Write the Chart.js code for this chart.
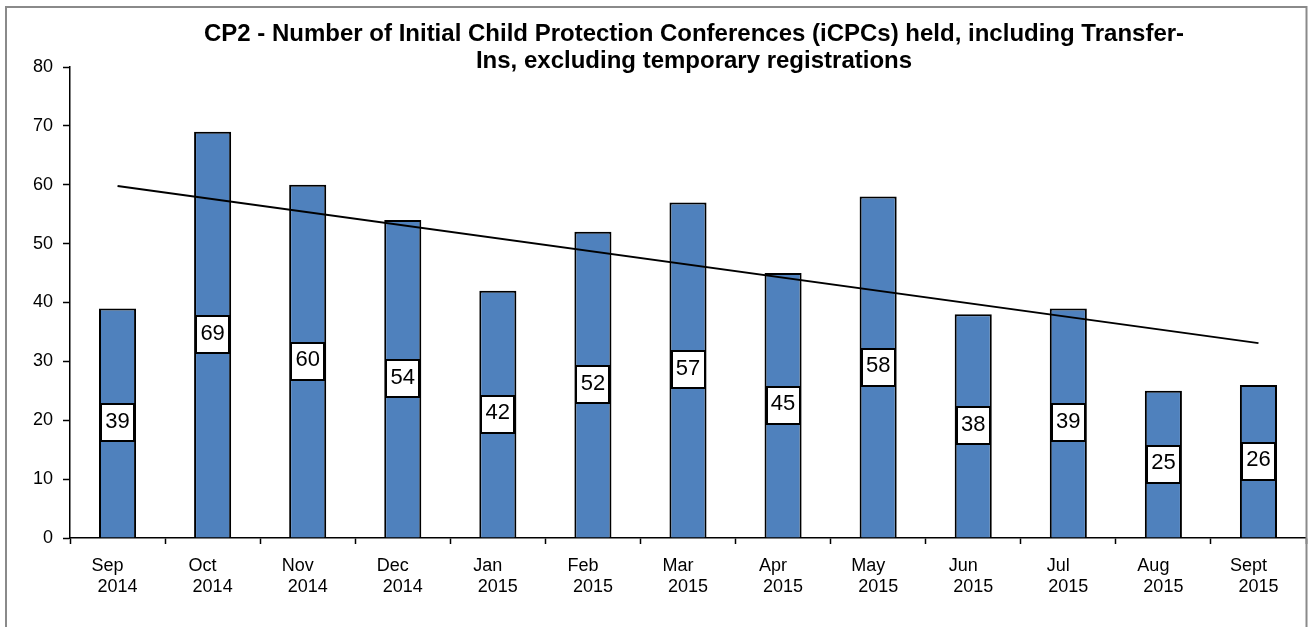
<!DOCTYPE html>
<html>
<head>
<meta charset="utf-8">
<title>CP2 - iCPCs held</title>
<script src="https://cdn.jsdelivr.net/npm/chart.js@4.4.1/dist/chart.umd.min.js"></script>
<style>
  html, body { margin: 0; padding: 0; background: #fff; }
  canvas { display: block; }
</style>
</head>
<body>
<canvas id="cp2Chart" width="1308" height="627"></canvas>
<script>
// chart data
const months = ['Sep', 'Oct', 'Nov', 'Dec', 'Jan', 'Feb', 'Mar', 'Apr', 'May', 'Jun', 'Jul', 'Aug', 'Sept'];
const years = ['2014', '2014', '2014', '2014', '2015', '2015', '2015', '2015', '2015', '2015', '2015', '2015', '2015'];
const icpcCounts = [39, 69, 60, 54, 42, 52, 57, 45, 58, 38, 39, 25, 26];
// linear trend at its two ends
const trendValues = [59.8, null, null, null, null, null, null, null, null, null, null, null, 33.1];
const yMin = 0;
const yMax = 80;
const yStep = 10;
const titleLines = [
  'CP2 - Number of Initial Child Protection Conferences (iCPCs) held, including Transfer-',
  'Ins, excluding temporary registrations'
];

const FONT = '"Liberation Sans", Arial, sans-serif';

// grey frame round the whole chart + the two line title
const frameAndTitle = {
  id: 'frameAndTitle',
  beforeDraw(chart) {
    const ctx = chart.ctx;
    ctx.save();
    ctx.fillStyle = '#fff';
    ctx.fillRect(0, 0, chart.width, chart.height);
    ctx.restore();
  },
  afterDraw(chart) {
    const ctx = chart.ctx;
    ctx.save();
    ctx.strokeStyle = '#8a8a8a';
    ctx.lineWidth = 2;
    ctx.strokeRect(6, 7, 1300.5, chart.height + 20);

    ctx.fillStyle = '#000';
    ctx.font = 'bold 24px ' + FONT;
    ctx.textAlign = 'center';
    ctx.textBaseline = 'alphabetic';
    const cx = (chart.chartArea.left + chart.chartArea.right) / 2 + 6;
    titleLines.forEach((line, i) => {
      ctx.fillText(line, cx, 40.5 + i * 27);
    });
    ctx.restore();
  }
};

// white boxed value labels half way up each bar
const boxedLabels = {
  id: 'boxedLabels',
  afterDatasetsDraw(chart) {
    const ctx = chart.ctx;
    const meta = chart.getDatasetMeta(1);
    const values = chart.data.datasets[1].data;
    ctx.save();
    ctx.font = '22px ' + FONT;
    ctx.textAlign = 'center';
    ctx.textBaseline = 'middle';
    meta.data.forEach((bar, i) => {
      const text = String(values[i]);
      const w = Math.round(ctx.measureText(text).width) + 9;
      const h = 37;
      const cy = (bar.y + bar.base) / 2;
      const x0 = Math.round(bar.x - w / 2);
      const y0 = Math.round(cy - h / 2);
      ctx.fillStyle = '#fff';
      ctx.fillRect(x0, y0, w, h);
      ctx.strokeStyle = '#000';
      ctx.lineWidth = 2;
      ctx.strokeRect(x0, y0, w, h);
      ctx.fillStyle = '#000';
      ctx.fillText(text, bar.x, cy - 1);
    });
    ctx.restore();
  }
};

const ctx = document.getElementById('cp2Chart').getContext('2d');
new Chart(ctx, {
  data: {
    labels: months.map((m, i) => [m + '    ', years[i]]),
    datasets: [
      {
        type: 'line',
        label: 'Trend',
        data: trendValues,
        spanGaps: true,
        borderColor: '#000',
        borderWidth: 2,
        pointRadius: 0,
        fill: false,
        order: 0
      },
      {
        type: 'bar',
        label: 'iCPCs',
        data: icpcCounts,
        backgroundColor: '#4F81BD',
        borderColor: '#000',
        borderWidth: 2,
        borderSkipped: 'bottom',
        categoryPercentage: 1,
        barPercentage: 0.39,
        order: 1
      }
    ]
  },
  options: {
    responsive: false,
    animation: false,
    layout: { padding: { top: 67, left: 5, right: 2, bottom: 0 } },
    plugins: {
      legend: { display: false },
      title: { display: false },
      tooltip: { enabled: false }
    },
    scales: {
      x: {
        offset: true,
        grid: {
          offset: true,
          drawOnChartArea: false,
          drawTicks: true,
          tickLength: 6,
          tickColor: '#000',
          tickWidth: 1.5
        },
        border: { color: '#000', width: 1.5 },
        ticks: {
          color: '#000',
          font: { family: FONT, size: 18, lineHeight: 1.15 },
          padding: 12,
          maxRotation: 0,
          autoSkip: false
        },
        afterFit(scale) { scale.height = 89; }
      },
      y: {
        min: yMin,
        max: yMax,
        grid: {
          drawOnChartArea: false,
          drawTicks: true,
          tickLength: 7,
          tickColor: '#000',
          tickWidth: 1.5
        },
        border: { color: '#000', width: 1.5 },
        ticks: {
          stepSize: yStep,
          color: '#000',
          font: { family: FONT, size: 18 },
          padding: 10
        },
        afterFit(scale) { scale.width = 65; }
      }
    }
  },
  plugins: [frameAndTitle, boxedLabels]
});
</script>
</body>
</html>
